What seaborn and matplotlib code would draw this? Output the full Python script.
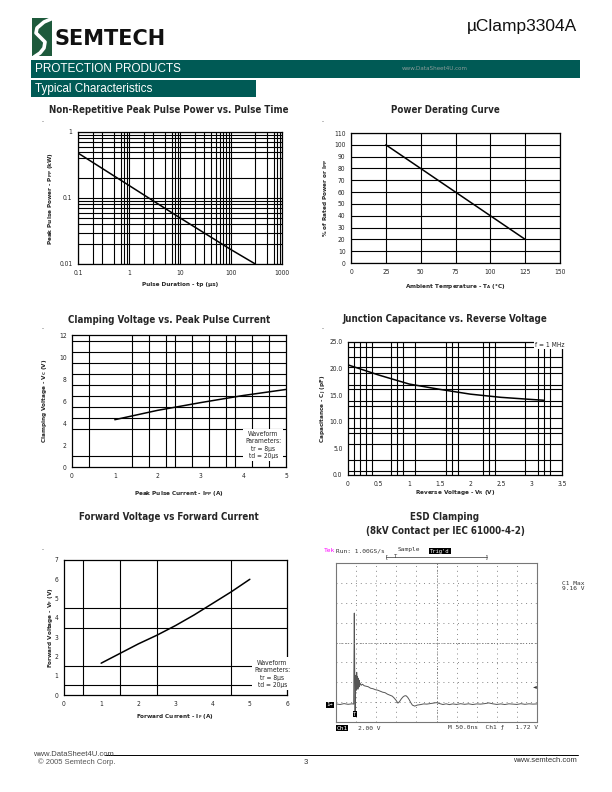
import numpy as np
import pandas as pd
import seaborn as sns
import matplotlib
matplotlib.use("Agg")
import matplotlib.pyplot as plt
from matplotlib.patches import Rectangle
from matplotlib.lines import Line2D

# ---------------- data ----------------
# Non-repetitive peak pulse power vs pulse time
ppp_tp = [0.1, 1, 10, 100, 300]
ppp_kw = [0.48, 0.155, 0.05, 0.0165, 0.01]
ppp_xgrid = [0.2, 0.3, 0.5, 0.7, 0.8, 0.9, 2, 3, 5, 7, 8, 9,
             20, 30, 40, 50, 60, 70, 80, 90, 300, 500, 700, 800, 900]
ppp_ygrid = [0.02, 0.03, 0.04, 0.05, 0.06, 0.07, 0.08, 0.09,
             0.2, 0.4, 0.5, 0.6, 0.7, 0.8, 0.9]

# power derating
der_temp = [25, 125]
der_pct = [100, 20]

# clamping voltage vs peak pulse current
clamp_ipp = [1, 2, 3, 4, 5]
clamp_vc = [4.3, 5.15, 5.85, 6.5, 7.05]
clamp_xgrid = [0.4, 1.0, 1.4, 1.8, 2.2, 2.4, 2.8, 3.2, 3.6, 3.8, 4.0, 4.2, 4.6]
clamp_ygrid = [1.0, 3.5, 4.5, 5.5, 6.5, 7.5, 8.5, 9.5, 10.5, 11.5]

# junction capacitance vs reverse voltage
cap_vr = [0, 0.5, 1.0, 1.5, 2.0, 2.5, 3.0, 3.2]
cap_cj = [20.7, 18.8, 17.1, 16.1, 15.2, 14.6, 14.2, 14.05]
cap_xgrid = [0.1, 0.2, 0.3, 0.4, 0.7, 0.8, 0.9, 1.0, 1.1, 1.5, 1.6, 1.7, 1.8,
             2.2, 2.3, 2.4, 2.5, 2.9, 3.0, 3.1, 3.2, 3.3]
cap_ygrid = [0.8, 2.9, 5.8, 7.9, 8.8, 10.8, 12.9, 13.9, 16.1, 17.0,
             19.2, 20.3, 22.2, 24.0]

# forward voltage vs forward current
fwd_if = [1, 1.5, 2, 2.5, 3, 3.5, 4, 4.5, 5]
fwd_vf = [1.65, 2.15, 2.65, 3.1, 3.6, 4.15, 4.75, 5.35, 6.0]
fwd_xgrid = [0.5, 1.5, 2.0, 2.5, 4.0, 4.5]
fwd_ygrid = [0.5, 1.5, 2.0, 3.0, 3.5, 4.5, 6.0]

# ESD clamping scope trace (ns, V)
scope_t = [0, 10, 20, 30, 40, 44, 45.5, 46.5, 47.5, 48.5,
           49.5, 50.5, 51.5, 52.5, 53.5, 54.5, 55.5, 56.5, 57.5, 58.5,
           60, 63, 66, 70, 75, 80, 86, 92, 98, 104,
           110, 116, 122, 128, 134, 140, 145, 150, 154, 158,
           162, 166, 170, 174, 178, 182, 186, 190, 196, 202,
           210, 218, 226, 234, 242, 250, 258, 266, 274, 282,
           290, 300, 310, 320, 330, 340, 350, 360, 370, 380,
           390, 400, 410, 420, 430, 440, 450, 460, 470, 480,
           490, 500]
scope_v = [0.02, -0.04, 0.05, -0.02, 0.03, 0.0, 9.16, 3.5, -0.8, 1.2,
           2.9, 1.4, 3.2, 1.6, 2.8, 1.5, 2.6, 1.7, 2.4, 1.8,
           2.1, 1.9, 2.0, 1.85, 1.8, 1.75, 1.6, 1.55, 1.45, 1.4,
           1.3, 1.2, 1.15, 1.0, 0.9, 0.8, 0.6, 0.35, 0.1, 0.25,
           0.5, 0.7, 0.82, 0.85, 0.7, 0.45, 0.15, -0.1, -0.2, -0.1,
           -0.05, 0.02, 0.0, 0.05, 0.1, 0.15, 0.05, -0.04, 0.03, -0.05,
           0.02, -0.03, 0.04, -0.02, 0.03, -0.04, 0.02, 0.0, 0.05, 0.12,
           0.03, -0.03, 0.02, -0.04, 0.03, 0.0, -0.03, 0.04, -0.02, 0.03,
           0.0, 0.02]

# ---------------- style ----------------
sns.set_style("white")
plt.rcParams["font.family"] = ["DejaVu Sans"]
plt.rcParams["font.stretch"] = "condensed"
plt.rcParams["axes.linewidth"] = 0.9

GREEN = "#005a55"
ARIAL = ["Liberation Sans", "DejaVu Sans"]
W, H = 612, 792


def rect(l, t, r, b):
    return [l / W, 1 - b / H, (r - l) / W, (b - t) / H]


def ftext(x, y, s, **kw):
    fig.text(x / W, 1 - y / H, s, **kw)


fig = plt.figure(figsize=(6.12, 7.92), dpi=100)

# ---------------- header ----------------
fig.add_artist(Rectangle((32 / W, 1 - 56 / H), 20 / W, 38 / H,
                         transform=fig.transFigure, color="#1e5a3c", lw=0))
sx = np.array([51, 44, 37, 36, 40, 45, 44, 40, 34]) / W
sy = 1 - np.array([19, 22, 28, 33, 37, 42, 48, 53, 57]) / H
fig.add_artist(Line2D(sx, sy, transform=fig.transFigure, color="white", lw=2.6))
ftext(54, 39, "SEMTECH", fontsize=15, fontweight="heavy", fontstretch="normal",
      family=["DejaVu Sans"], va="center", ha="left", color="#111111")
ftext(577, 27, "\u00b5Clamp3304A", fontsize=12.5, family=ARIAL,
      va="center", ha="right", color="#111111")

fig.add_artist(Rectangle((31 / W, 1 - 78 / H), 549 / W, 18 / H,
                         transform=fig.transFigure, color=GREEN, lw=0))
fig.add_artist(Rectangle((31 / W, 1 - 97 / H), 225 / W, 17 / H,
                         transform=fig.transFigure, color=GREEN, lw=0))
ftext(35, 69, "PROTECTION PRODUCTS", fontsize=8.5, color="white",
      family=ARIAL, va="center")
ftext(35, 89, "Typical Characteristics", fontsize=8.5, color="white",
      family=ARIAL, va="center")
ftext(435, 69, "www.DataSheet4U.com", fontsize=4.5, color="#8a9a98", ha="center", va="center")

# chart titles
tkw = dict(fontsize=7.0, fontweight="bold", ha="center", va="center")
ftext(169, 110, "Non-Repetitive Peak Pulse Power vs. Pulse Time", **tkw)
ftext(445, 110, "Power Derating Curve", **tkw)
ftext(169, 320, "Clamping Voltage vs. Peak Pulse Current", **tkw)
ftext(445, 319, "Junction Capacitance vs. Reverse Voltage", **tkw)
ftext(169, 517, "Forward Voltage vs Forward Current", **tkw)
ftext(445, 517, "ESD Clamping", **tkw)
ftext(445, 531, "(8kV Contact per IEC 61000-4-2)", **tkw)
for dx, dy in [(42, 120), (322, 120), (42, 327), (322, 327), (42, 548)]:
    ftext(dx, dy, ".", fontsize=5, ha="center", va="center")

LBL = dict(fontsize=4.6, fontweight="bold")


def style(ax, xgrid, ygrid, both=False):
    ax.set_xticks(xgrid, minor=True)
    ax.set_yticks(ygrid, minor=True)
    ax.grid(which="minor", color="black", lw=0.8)
    if both:
        ax.grid(which="major", color="black", lw=0.8)
    ax.tick_params(which="minor", length=0)
    ax.tick_params(which="major", length=2, width=0.6, labelsize=4.8, pad=2)
    for s in ax.spines.values():
        s.set_color("black")
        s.set_linewidth(0.9)
    ax.set_axisbelow(True)


def place_labels(ax, xl, yl, ylx, xly, box):
    l, t, r, b = box
    ax.set_xlabel(xl, **LBL)
    ax.set_ylabel(yl, **LBL)
    ax.yaxis.set_label_coords((ylx + 3 - l) / (r - l), 0.5)
    ax.xaxis.set_label_coords(0.5, (b - (xly - 3)) / (b - t))


# ---------------- chart 1 ----------------
box = (78, 132, 282, 264)
ax1 = fig.add_axes(rect(*box))
sns.lineplot(x=ppp_tp, y=ppp_kw, ax=ax1, color="black", lw=1.1)
ax1.set_xscale("log")
ax1.set_yscale("log")
ax1.set_xlim(0.1, 1000)
ax1.set_ylim(0.01, 1)
ax1.set_xticks([0.1, 1, 10, 100, 1000], ["0.1", "1", "10", "100", "1000"])
ax1.set_yticks([0.01, 0.1, 1], ["0.01", "0.1", "1"])
style(ax1, ppp_xgrid, ppp_ygrid, both=True)
place_labels(ax1, "Pulse Duration - tp (\u00b5s)",
             "Peak Pulse Power - P$_{\\mathregular{PP}}$ (kW)", 52, 285, box)

# ---------------- chart 2 ----------------
box = (351, 133, 560, 263)
ax2 = fig.add_axes(rect(*box))
sns.lineplot(x=der_temp, y=der_pct, ax=ax2, color="black", lw=1.1)
ax2.set_xlim(0, 150)
ax2.set_ylim(0, 110)
ax2.set_xticks(range(0, 151, 25))
ax2.set_yticks(range(0, 111, 10))
style(ax2, [], [], both=True)
place_labels(ax2, "Ambient Temperature - T$_{\\mathregular{A}}$ (\u00b0C)",
             "% of Rated Power or I$_{\\mathregular{PP}}$", 327, 285, box)

# ---------------- chart 3 ----------------
box = (72, 335, 286, 467)
ax3 = fig.add_axes(rect(*box))
sns.lineplot(x=clamp_ipp, y=clamp_vc, ax=ax3, color="black", lw=1.1)
ax3.set_xlim(0, 5)
ax3.set_ylim(0, 12)
ax3.set_xticks(range(0, 6))
ax3.set_yticks(range(0, 13, 2))
style(ax3, clamp_xgrid, clamp_ygrid)
place_labels(ax3, "Peak Pulse Current - I$_{\\mathregular{PP}}$ (A)",
             "Clamping Voltage - V$_{\\mathregular{C}}$ (V)", 46, 492, box)
ax3.text(4.47, 2.0, "Waveform\nParameters:\ntr = 8\u00b5s\ntd = 20\u00b5s", fontsize=4.8,
         ha="center", va="center", linespacing=1.3,
         bbox=dict(facecolor="white", edgecolor="none", pad=1.5))

# ---------------- chart 4 ----------------
box = (348, 342, 562, 475)
ax4 = fig.add_axes(rect(*box))
sns.lineplot(x=cap_vr, y=cap_cj, ax=ax4, color="black", lw=1.1)
ax4.set_xlim(0, 3.5)
ax4.set_ylim(0, 25)
ax4.set_xticks(np.arange(0, 3.51, 0.5), ["0", "0.5", "1", "1.5", "2", "2.5", "3", "3.5"])
ax4.set_yticks(range(0, 26, 5), ["0.0", "5.0", "10.0", "15.0", "20.0", "25.0"])
style(ax4, cap_xgrid, cap_ygrid)
place_labels(ax4, "Reverse Voltage - V$_{\\mathregular{R}}$ (V)",
             "Capacitance - C$_{\\mathregular{J}}$ (pF)", 326, 491, box)
ax4.text(3.3, 24.5, "f = 1 MHz", fontsize=4.8, ha="center", va="center",
         bbox=dict(facecolor="white", edgecolor="none", pad=0.8))

# ---------------- chart 5 ----------------
box = (64, 560, 287, 695)
ax5 = fig.add_axes(rect(*box))
sns.lineplot(x=fwd_if, y=fwd_vf, ax=ax5, color="black", lw=1.1)
ax5.set_xlim(0, 6)
ax5.set_ylim(0, 7)
ax5.set_xticks(range(0, 7))
ax5.set_yticks(range(0, 8))
style(ax5, fwd_xgrid, fwd_ygrid)
place_labels(ax5, "Forward Current - I$_{\\mathregular{F}}$ (A)",
             "Forward Voltage - V$_{\\mathregular{F}}$ (V)", 52, 715, box)
ax5.text(5.6, 1.1, "Waveform\nParameters:\ntr = 8\u00b5s\ntd = 20\u00b5s", fontsize=4.8,
         ha="center", va="center", linespacing=1.3,
         bbox=dict(facecolor="white", edgecolor="none", pad=1.5))

# ---------------- ESD scope ----------------
ax6 = fig.add_axes(rect(336, 563, 537, 722))
sns.lineplot(x=scope_t, y=scope_v, ax=ax6, color="#555555", lw=0.7)
ax6.set_xlim(0, 500)
ax6.set_ylim(-1.8, 14.2)
ax6.set_xticks(range(0, 501, 50))
ax6.set_yticks(np.arange(-1.8, 14.3, 2.0))
ax6.grid(color="#888888", lw=0.7, linestyle=(0, (1, 4)))
ax6.axvline(250, color="#777777", lw=0.7, linestyle=(0, (1, 2)))
ax6.axhline(6.2, color="#777777", lw=0.7, linestyle=(0, (1, 2)))
ax6.tick_params(length=0, labelbottom=False, labelleft=False)
for s in ax6.spines.values():
    s.set_color("#777777")
    s.set_linewidth(0.8)

mono = ["DejaVu Sans Mono"]
skw = dict(fontsize=4.5, color="#333333", family=mono, va="center", fontstretch="normal")
ftext(324, 551, "Tek", **{**skw, "color": "#ff00ff"})
ftext(336, 551, "Run: 1.00GS/s", **skw)
ftext(398, 550, "Sample", **skw)
ftext(440, 551, "Trig'd", **{**skw, "color": "white", "ha": "center", "fontsize": 4},
      bbox=dict(facecolor="black", edgecolor="none", pad=0.6))
fig.add_artist(Line2D([386 / W, 487 / W], [1 - 557 / H] * 2, transform=fig.transFigure,
                      color="#555555", lw=0.6))
ftext(386, 557, "[", **{**skw, "ha": "center"})
ftext(487, 557, "]", **{**skw, "ha": "center"})
ftext(396, 556, "T", **{**skw, "ha": "center", "fontsize": 4})
ftext(573, 586, "C1 Max\n9.16 V", **{**skw, "ha": "center"}, linespacing=1.0)
ftext(535, 687, "\u25c4", fontsize=4, color="#333333", va="center", ha="center")
ftext(330, 705, "1\u2192", **{**skw, "color": "white", "ha": "center", "fontsize": 4},
      bbox=dict(facecolor="black", edgecolor="none", pad=0.4))
ftext(355, 714, "T", **{**skw, "color": "white", "ha": "center", "fontsize": 4},
      bbox=dict(facecolor="black", edgecolor="none", pad=0.4))
ftext(342, 728, "Ch1", **{**skw, "color": "white", "ha": "center"},
      bbox=dict(facecolor="black", edgecolor="none", pad=0.5))
ftext(358, 728, "2.00 V", **skw)
ftext(448, 728, "M 50.0ns  Ch1 \u0192   1.72 V", **skw)

# ---------------- footer ----------------
fig.add_artist(Line2D([105 / W, 578 / W], [1 - 755 / H] * 2, transform=fig.transFigure,
                      color="black", lw=0.7))
ftext(33, 754, "www.DataSheet4U.com", fontsize=5.5, color="#444444",
      family=ARIAL, va="center")
ftext(38, 762, "\u00a9 2005 Semtech Corp.", fontsize=5.5, color="#555555",
      family=ARIAL, va="center")
ftext(306, 763, "3", fontsize=5.5, color="#333333", ha="center", va="center",
      family=ARIAL)
ftext(577, 760, "www.semtech.com", fontsize=5.5, color="#333333", ha="right", va="center",
      family=ARIAL)

fig.savefig("out.png", dpi=100)
print("saved out.png")
